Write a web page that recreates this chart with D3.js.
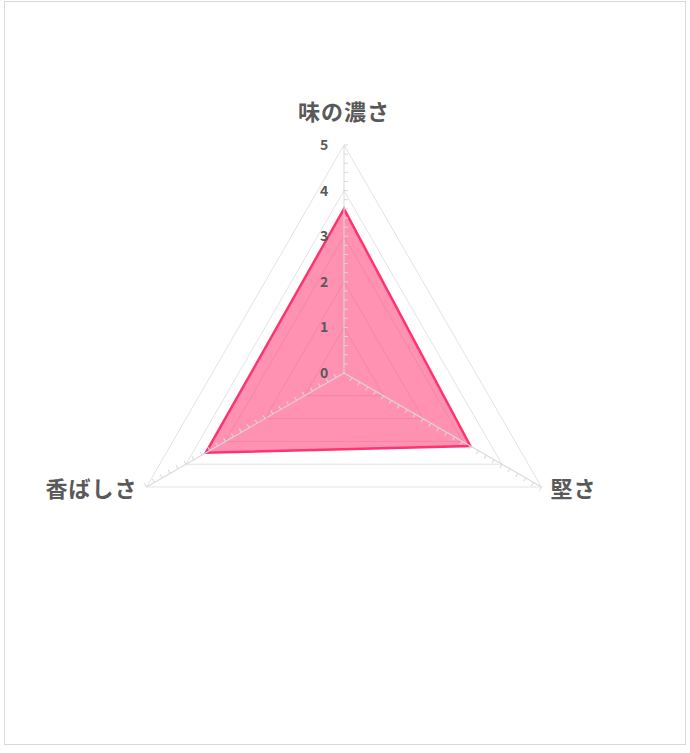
<!DOCTYPE html>
<html>
<head>
<meta charset="utf-8">
<script src="https://cdn.jsdelivr.net/npm/d3@7"></script>
<style>
  body { margin: 0; background: #fff; }
  svg { display: block; }
</style>
</head>
<body>
<svg id="radar" width="690" height="753"></svg>
<script>
const categories = ["味の濃さ", "堅さ", "香ばしさ"];
const values = [3.6, 3.2, 3.5];
const tickLabels = [0, 1, 2, 3, 4, 5];
const minorStep = 0.2;

const svg = d3.select("#radar");
const width = +svg.attr("width");
const height = +svg.attr("height");

const cx = 344, cy = 373;
const radius = 228;
const font = "'Noto Sans CJK JP', 'Noto Sans', sans-serif";

// chart border
svg.append("rect")
  .attr("x", 4.5).attr("y", 1.5)
  .attr("width", 681).attr("height", 743)
  .attr("fill", "white")
  .attr("stroke", "#d9d9d9")
  .attr("stroke-width", 1);

const r = d3.scaleLinear().domain([0, 5]).range([0, radius]);
const angle = i => (i * 2 * Math.PI) / categories.length; // 0 = up, clockwise
const pt = (i, v) => [Math.sin(angle(i)) * r(v), -Math.cos(angle(i)) * r(v)];

const g = svg.append("g").attr("transform", `translate(${cx},${cy})`);

// grid triangles
g.selectAll("polygon.grid")
  .data(tickLabels.filter(d => d > 0))
  .enter()
  .append("polygon")
  .attr("class", "grid")
  .attr("points", d => categories.map((c, i) => pt(i, d).join(",")).join(" "))
  .attr("fill", "none")
  .attr("stroke", "#e3e3e3")
  .attr("stroke-width", 1);

// data polygon
g.append("polygon")
  .attr("points", values.map((v, i) => pt(i, v).join(",")).join(" "))
  .attr("fill", "#ff3d77")
  .attr("fill-opacity", 0.57)
  .attr("stroke", "#ff3370")
  .attr("stroke-width", 2.5)
  .attr("stroke-linejoin", "miter");

// spokes with minor ticks
const minorTicks = d3.range(0, 5 + 1e-9, minorStep);
categories.forEach((c, i) => {
  const ax = g.append("g").attr("transform", `rotate(${i * 120})`);
  ax.append("line")
    .attr("x1", 0).attr("y1", 0)
    .attr("x2", 0).attr("y2", -r(5))
    .attr("stroke", "#d9d9d9")
    .attr("stroke-width", 1);
  ax.selectAll("line.tick")
    .data(minorTicks.slice(1))
    .enter()
    .append("line")
    .attr("class", "tick")
    .attr("x1", 0).attr("x2", 4)
    .attr("y1", d => -r(d)).attr("y2", d => -r(d))
    .attr("stroke", "#d9d9d9")
    .attr("stroke-width", 1);
});

// value labels on the top axis
g.selectAll("text.tickLabel")
  .data(tickLabels)
  .enter()
  .append("text")
  .attr("class", "tickLabel")
  .attr("x", -20)
  .attr("y", d => -r(d))
  .attr("dy", "0.35em")
  .attr("text-anchor", "middle")
  .attr("font-family", font)
  .attr("font-weight", "bold")
  .attr("font-size", "14px")
  .attr("fill", "#595959")
  .text(d => d);

// category labels
const labelPos = [
  { x: 0, y: -r(5) - 33, anchor: "middle" },
  { x: pt(1, 5)[0] + 9, y: pt(1, 5)[1] + 2, anchor: "start" },
  { x: pt(2, 5)[0] - 9, y: pt(2, 5)[1] + 2, anchor: "end" }
];
g.selectAll("text.cat")
  .data(categories)
  .enter()
  .append("text")
  .attr("class", "cat")
  .attr("x", (d, i) => labelPos[i].x)
  .attr("y", (d, i) => labelPos[i].y)
  .attr("dy", "0.35em")
  .attr("text-anchor", (d, i) => labelPos[i].anchor)
  .attr("font-family", font)
  .attr("font-weight", "bold")
  .attr("font-size", "22px")
  .attr("letter-spacing", "1px")
  .attr("fill", "#595959")
  .text(d => d);
</script>
</body>
</html>
